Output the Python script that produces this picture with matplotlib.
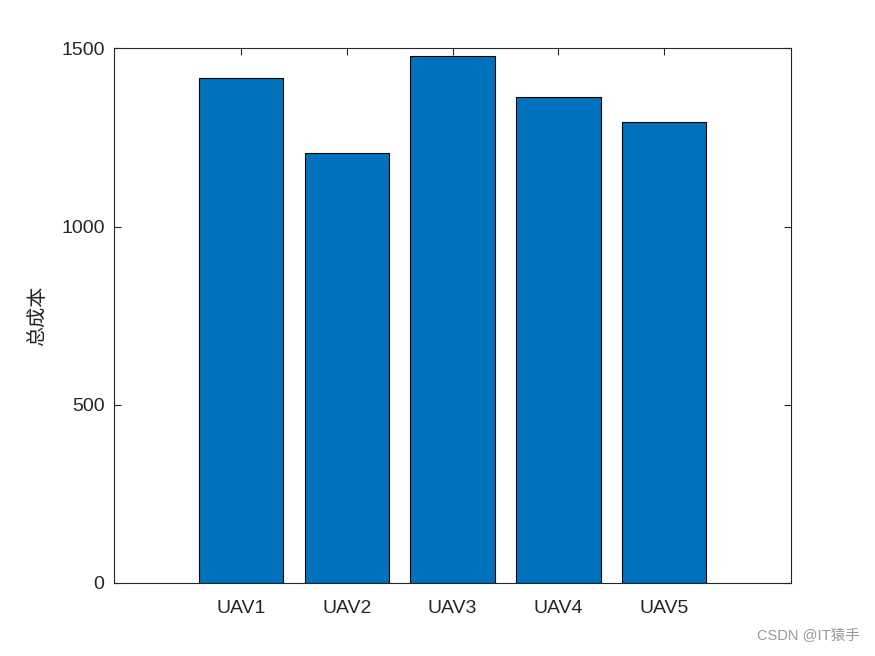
import matplotlib
matplotlib.use("Agg")
import matplotlib.pyplot as plt

categories = ["UAV1", "UAV2", "UAV3", "UAV4", "UAV5"]
total_cost = [1418, 1205, 1477, 1364, 1292]
y_ticks = [0, 500, 1000, 1500]

plt.rcParams['font.family'] = ['Liberation Sans', 'Noto Sans CJK SC', 'DejaVu Sans']

fig = plt.figure(figsize=(8.75, 6.56), dpi=100)
ax = fig.add_axes([0.1306, 0.1113, 0.904 - 0.1306, 0.9264 - 0.1113])

pos = list(range(1, len(categories) + 1))
ax.bar(pos, total_cost, width=0.8, color="#0072BD", edgecolor="black", linewidth=0.8, zorder=2)

ax.set_xlim(-0.2, 6.2)
ax.set_ylim(0, 1500)
ax.set_xticks(pos)
ax.set_xticklabels(categories)
ax.set_yticks(y_ticks)
ax.tick_params(direction="in", length=5, width=0.8, top=True, right=True,
               labelsize=14, colors="#262626", pad=7)
ax.tick_params(axis="x", pad=12)
for s in ax.spines.values():
    s.set_linewidth(0.8)
    s.set_color("#262626")
ax.set_ylabel("总成本", family=['Noto Sans CJK SC', 'DejaVu Sans'], fontsize=14.5,
              fontweight="light", color="#262626", labelpad=9)

fig.text(0.983, 0.02, "CSDN @IT猿手", ha="right", va="bottom", fontsize=10.5,
         color="#999999", family=['Liberation Sans', 'Noto Sans CJK SC'])

fig.savefig("out.png", dpi=100)
